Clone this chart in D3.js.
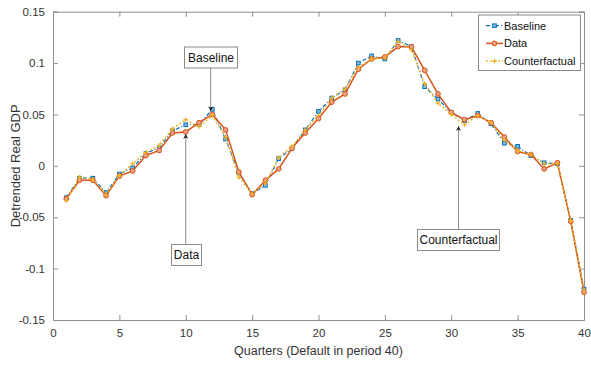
<!DOCTYPE html>
<html>
<head>
<meta charset="utf-8">
<script src="https://cdn.jsdelivr.net/npm/d3@7"></script>
<style>
  html, body { margin: 0; padding: 0; background: #fff; }
  svg { display: block; font-family: "Liberation Sans", Arial, sans-serif; }
</style>
</head>
<body>
<svg id="chart" width="591" height="365"></svg>
<script>
// Quarters 1..40
const quarters = d3.range(1, 41);

const baseline = [
  -0.031, -0.012, -0.012, -0.026, -0.008, -0.002, 0.012, 0.018, 0.034, 0.040,
  0.040, 0.055, 0.026, -0.007, -0.027, -0.019, 0.007, 0.017, 0.035, 0.053,
  0.066, 0.074, 0.100, 0.107, 0.104, 0.122, 0.116, 0.077, 0.065, 0.052,
  0.044, 0.051, 0.041, 0.022, 0.019, 0.010, 0.003, 0.002, -0.053, -0.120
];

const dataSeries = [
  -0.032, -0.014, -0.014, -0.029, -0.010, -0.005, 0.010, 0.015, 0.032, 0.033,
  0.042, 0.050, 0.035, -0.006, -0.028, -0.014, -0.003, 0.017, 0.032, 0.046,
  0.062, 0.070, 0.094, 0.104, 0.106, 0.116, 0.116, 0.093, 0.070, 0.052,
  0.045, 0.049, 0.042, 0.028, 0.014, 0.011, -0.003, 0.003, -0.054, -0.123
];

const counterfactual = [
  -0.034, -0.011, -0.013, -0.028, -0.009, 0.002, 0.013, 0.020, 0.036, 0.045,
  0.038, 0.049, 0.028, -0.011, -0.027, -0.017, 0.008, 0.019, 0.035, 0.049,
  0.066, 0.075, 0.096, 0.104, 0.105, 0.121, 0.113, 0.080, 0.061, 0.050,
  0.040, 0.049, 0.042, 0.025, 0.015, 0.011, 0.002, 0.002, -0.053, -0.121
];

const xTicks = [0, 5, 10, 15, 20, 25, 30, 35, 40];
const yTicks = [-0.15, -0.1, -0.05, 0, 0.05, 0.1, 0.15];
const yTickLabels = ["-0.15", "-0.1", "-0.05", "0", "0.05", "0.1", "0.15"];

const seriesNames = ["Baseline", "Data", "Counterfactual"];
const seriesColors = ["#0072BD", "#D95319", "#EDB120"];

const svg = d3.select("#chart");
const margin = { left: 53, right: 7, top: 11.7, bottom: 45 };
const W = 591, H = 365;
const x = d3.scaleLinear().domain([0, 40]).range([margin.left, W - margin.right]);
const y = d3.scaleLinear().domain([-0.15, 0.15]).range([H - margin.bottom, margin.top]);

const axisColor = "#8f8f8f";
const textColor = "#333";

// Axes with inward ticks on all four sides (boxed axes)
const gx = svg.append("g").attr("transform", `translate(0,${y(-0.15)})`)
  .call(d3.axisBottom(x).tickValues(xTicks).tickSize(-5).tickPadding(9).tickFormat(d3.format("d")));
const gxTop = svg.append("g").attr("transform", `translate(0,${y(0.15)})`)
  .call(d3.axisTop(x).tickValues(xTicks).tickSize(-5).tickFormat(""));
const gy = svg.append("g").attr("transform", `translate(${x(0)},0)`)
  .call(d3.axisLeft(y).tickValues(yTicks).tickSize(-5).tickPadding(8)
    .tickFormat((d, i) => yTickLabels[i]));
const gyRight = svg.append("g").attr("transform", `translate(${x(40)},0)`)
  .call(d3.axisRight(y).tickValues(yTicks).tickSize(-5).tickFormat(""));

[gx, gxTop, gy, gyRight].forEach(g => {
  g.select(".domain").attr("stroke", axisColor).attr("stroke-width", 1);
  g.selectAll(".tick line").attr("stroke", axisColor);
  g.selectAll(".tick text").attr("fill", textColor).attr("font-size", 11.5)
    .attr("font-family", "Liberation Sans, Arial, sans-serif");
});

// Axis titles
svg.append("text")
  .attr("x", (x(0) + x(40)) / 2).attr("y", 355)
  .attr("text-anchor", "middle").attr("fill", textColor).attr("font-size", 12.5)
  .text("Quarters (Default in period 40)");
svg.append("text")
  .attr("transform", `translate(20,${(y(0.15) + y(-0.15)) / 2}) rotate(-90)`)
  .attr("text-anchor", "middle").attr("fill", textColor).attr("font-size", 13)
  .text("Detrended Real GDP");

const allSeries = [baseline, dataSeries, counterfactual];
const line = d3.line().x((d, i) => x(quarters[i])).y(d => y(d));

const plot = svg.append("g");

function drawMarker(g, kind, cx, cy, color) {
  if (kind === 0) {
    g.append("rect").attr("x", cx - 1.8).attr("y", cy - 1.8).attr("width", 3.6).attr("height", 3.6)
      .attr("fill", "#8fbde3").attr("stroke", color).attr("stroke-width", 1);
  } else if (kind === 1) {
    g.append("circle").attr("cx", cx).attr("cy", cy).attr("r", 2.4)
      .attr("fill", "#eea283").attr("stroke", color).attr("stroke-width", 1);
  } else {
    g.append("path").attr("d", `M${cx - 2.3},${cy}H${cx + 2.3}M${cx},${cy - 2.3}V${cy + 2.3}`)
      .attr("stroke", color).attr("stroke-width", 1.1).attr("fill", "none");
  }
}

const dashes = ["4,2,1,2", null, "2,2"];
const widths = [1.2, 1.5, 1.4];

allSeries.forEach((vals, k) => {
  const g = plot.append("g");
  g.append("path").datum(vals).attr("d", line)
    .attr("fill", "none").attr("stroke", seriesColors[k]).attr("stroke-width", widths[k])
    .attr("stroke-dasharray", dashes[k]);
  vals.forEach((v, i) => drawMarker(g, k, x(quarters[i]), y(v), seriesColors[k]));
});

// Text-box callouts with arrows
const defs = svg.append("defs");
defs.append("marker").attr("id", "head").attr("viewBox", "0 0 10 10")
  .attr("refX", 10).attr("refY", 5).attr("markerWidth", 5).attr("markerHeight", 5)
  .attr("orient", "auto-start-reverse")
  .append("path").attr("d", "M0,0L10,5L0,10L3,5Z").attr("fill", "#222");

function callout(label, bx, by, bw, bh, ax, ay1, ay2) {
  svg.append("line").attr("x1", ax).attr("y1", ay1).attr("x2", ax).attr("y2", ay2)
    .attr("stroke", "#8a8a8a").attr("stroke-width", 1).attr("marker-end", "url(#head)");
  svg.append("rect").attr("x", bx).attr("y", by).attr("width", bw).attr("height", bh)
    .attr("fill", "#fff").attr("stroke", "#8a8a8a").attr("stroke-width", 1);
  svg.append("text").attr("x", bx + bw / 2).attr("y", by + bh / 2 + 4)
    .attr("text-anchor", "middle").attr("fill", "#111").attr("font-size", 12).text(label);
}

// Baseline arrow points down at quarter 12
callout("Baseline", 184.5, 47, 53, 21, x(11.88), 68, y(baseline[11]) + 2);
// Data arrow points up at quarter 10
callout("Data", 171.5, 244.5, 30, 21, x(10), 244.5, y(dataSeries[9]) + 2);
// Counterfactual arrow points up near quarter 30.5
callout("Counterfactual", 417.5, 229.5, 82, 21, x(30.55), 229.5, 126);

// Legend
const lg = svg.append("g");
lg.append("rect").attr("x", 478.5).attr("y", 15).attr("width", 102).attr("height", 55.5)
  .attr("fill", "#fff").attr("stroke", "#8a8a8a").attr("stroke-width", 1);
seriesNames.forEach((name, k) => {
  const ly = 25.7 + k * 17.7;
  lg.append("line").attr("x1", 486).attr("x2", 503).attr("y1", ly).attr("y2", ly)
    .attr("stroke", seriesColors[k]).attr("stroke-width", widths[k])
    .attr("stroke-dasharray", dashes[k]);
  drawMarker(lg, k, 494.5, ly, seriesColors[k]);
  lg.append("text").attr("x", 504).attr("y", ly + 4).attr("fill", "#111")
    .attr("font-size", 11).text(name);
});
</script>
</body>
</html>
